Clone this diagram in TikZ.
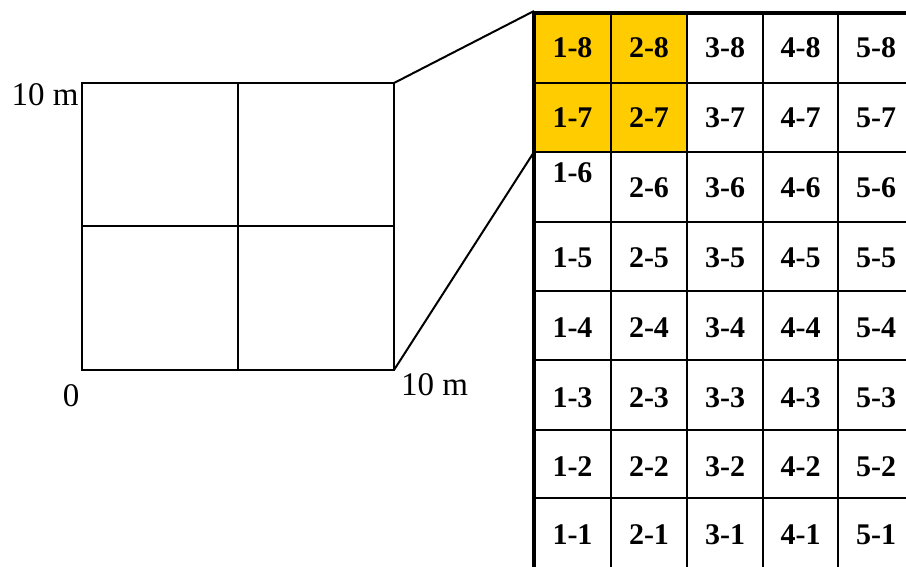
\documentclass[tikz,border=0pt]{standalone}
\usepackage{fontspec}
\setmainfont{Liberation Serif}
\definecolor{cellyellow}{HTML}{FFCC00}
\tikzset{
  thin line/.style={line width=2pt, black},
  thick border/.style={line width=4.5pt, black},
  celltext/.style={font=\fontsize{30}{36}\selectfont\bfseries, inner sep=0pt},
  labeltext/.style={font=\fontsize{33}{40}\selectfont, inner sep=0pt},
}
\begin{document}
\begin{tikzpicture}[x=1pt,y=-1pt]
\useasboundingbox (0,0) rectangle (906,566);
% yellow cells
\fill[cellyellow] (534,13) rectangle (687,152);
% left square
\coordinate (sqTL) at (82,83);
\coordinate (sqTR) at (394,83);
\coordinate (sqBR) at (394,370);
\coordinate (sqBL) at (82,370);
\draw[thin line] (sqTL) rectangle (sqBR);
\draw[thin line] (238,83) -- (238,370);
\draw[thin line] (82,226) -- (394,226);
% labels
\node[labeltext] (lbltop) at (45,94.5) {10 m};
\node[labeltext] (lblzero) at (71,395.5) {0};
\node[labeltext] (lblright) at (434.5,384.5) {10 m};
% table grid
\foreach \y in {83,152,222,291,360,430,498} {
  \draw[thin line] (534,\y) -- (910,\y);
}
\foreach \x in {611,687,763,838} {
  \draw[thin line] (\x,13) -- (\x,570);
}
\coordinate (tabTL) at (534,11);
\coordinate (tabML) at (534,152);
\draw[thick border] (534,570) -- (534,13) -- (910,13);
% connectors
\draw[thin line] (sqTR) -- (tabTL);
\draw[thin line] (sqBR) -- (tabML);
% cell texts
\foreach \c/\cx in {1/572.5,2/649,3/725,4/800.5,5/876} {
  \foreach \r/\cy in {8/48,7/118,5/258,4/327.5,3/397.5,2/467,1/535} {
    \node[celltext] (c\c-\r) at (\cx,\cy) {\c-\r};
  }
}
\node[celltext] (c1-6) at (572.5,173) {1-6};
\foreach \c/\cx in {2/649,3/725,4/800.5,5/876} {
  \node[celltext] (c\c-6) at (\cx,188) {\c-6};
}
\end{tikzpicture}
\end{document}
